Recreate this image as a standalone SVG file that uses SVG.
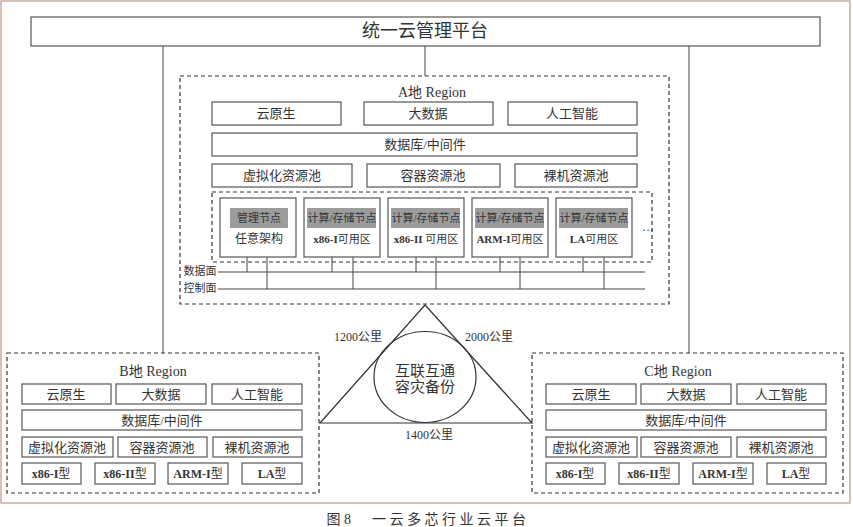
<svg xmlns="http://www.w3.org/2000/svg" width="853" height="527" viewBox="0 0 853 527">
<style>
.bx{fill:#fff;stroke:#555;stroke-width:1.2}
.dash{fill:none;stroke:#333;stroke-width:1.2;stroke-dasharray:4,3}
.ln{fill:none;stroke:#444;stroke-width:1}
.t{font-family:"Liberation Serif","Noto Sans CJK SC",serif;fill:#333;text-anchor:middle;dominant-baseline:central}
.s13{font-size:13px}
.s12{font-size:12px}
.s11{font-size:11px}
.b{font-weight:bold}
.gl{fill:#9c9c9c}
</style>
<rect x="0" y="0" width="853" height="527" fill="#fff"/>
<rect x="1" y="1" width="849" height="502" fill="none" stroke="#c9ad9f" stroke-width="1.5"/>

<g id="connectors">
<line class="ln" x1="163" y1="46" x2="163" y2="353"/>
<line class="ln" x1="689" y1="46" x2="689" y2="353"/>
<line class="ln" x1="425" y1="46" x2="425" y2="76"/>
<line class="ln" x1="218" y1="272" x2="645" y2="272"/>
<line class="ln" x1="218" y1="289" x2="645" y2="289"/>
<path class="ln" d="M247 257V272M267 257V289M332 257V272M353 257V289M416 257V272M436 257V289M500 257V272M520 257V289M583 257V272M604 257V289"/>
<polygon points="425,305 320,423 532,423" fill="none" stroke="#333" stroke-width="1.2"/>
</g>

<g id="platform">
<rect class="bx" x="31" y="17" width="789" height="29" stroke-width="1.5"/>
<text class="t" x="425" y="31" style="font-size:18px">统一云管理平台</text>
</g>

<g id="regionA">
<rect class="dash" x="180" y="76" width="489" height="228"/>
<text class="t" x="432" y="92" style="font-size:14px">A地 Region</text>
<rect class="bx" x="212" y="102" width="129" height="23"/><text class="t s13" x="276" y="113">云原生</text>
<rect class="bx" x="364" y="102" width="129" height="23"/><text class="t s13" x="428" y="113">大数据</text>
<rect class="bx" x="508" y="102" width="129" height="23"/><text class="t s13" x="572" y="113">人工智能</text>
<rect class="bx" x="212" y="133" width="425" height="23"/><text class="t s13" x="425" y="144">数据库/中间件</text>
<rect class="bx" x="212" y="164" width="140" height="23"/><text class="t s13" x="282" y="175">虚拟化资源池</text>
<rect class="bx" x="367" y="164" width="133" height="23"/><text class="t s13" x="433" y="175">容器资源池</text>
<rect class="bx" x="515" y="164" width="122" height="23"/><text class="t s13" x="576" y="175">裸机资源池</text>
<rect class="dash" x="212" y="192" width="440" height="70"/>
<text class="t s12" x="648" y="227">…</text>
<text class="t s11" x="200" y="271">数据面</text>
<text class="t s11" x="200" y="288">控制面</text>
</g>

<g id="nodeMgmt">
<rect class="bx" x="220" y="198" width="76" height="59"/>
<rect class="gl" x="230" y="208" width="58" height="20"/>
<text class="t s11" x="259" y="218">管理节点</text>
<text class="t s12" x="259" y="239">任意架构</text>
</g>
<g id="nodeX86I">
<rect class="bx" x="304" y="198" width="76" height="59"/>
<rect class="gl" x="307" y="208" width="69" height="20"/>
<text class="t s11" x="342" y="218">计算/存储节点</text>
<text class="t s11" x="342" y="239"><tspan class="b">x86-I</tspan>可用区</text>
</g>
<g id="nodeX86II">
<rect class="bx" x="388" y="198" width="76" height="59"/>
<rect class="gl" x="391" y="208" width="69" height="20"/>
<text class="t s11" x="426" y="218">计算/存储节点</text>
<text class="t s11" x="426" y="239"><tspan class="b">x86-II</tspan> 可用区</text>
</g>
<g id="nodeARM">
<rect class="bx" x="472" y="198" width="76" height="59"/>
<rect class="gl" x="475" y="208" width="69" height="20"/>
<text class="t s11" x="510" y="218">计算/存储节点</text>
<text class="t s11" x="510" y="239"><tspan class="b">ARM-I</tspan>可用区</text>
</g>
<g id="nodeLA">
<rect class="bx" x="556" y="198" width="76" height="59"/>
<rect class="gl" x="559" y="208" width="69" height="20"/>
<text class="t s11" x="594" y="218">计算/存储节点</text>
<text class="t s11" x="594" y="239"><tspan class="b">LA</tspan>可用区</text>
</g>

<g id="regionB">
<rect class="dash" x="7" y="353" width="312" height="140"/>
<text class="t" x="153" y="371" style="font-size:14px">B地 Region</text>
<rect class="bx" x="22" y="384" width="89" height="20"/><text class="t s13" x="66" y="394">云原生</text>
<rect class="bx" x="116" y="384" width="90" height="20"/><text class="t s13" x="161" y="394">大数据</text>
<rect class="bx" x="212" y="384" width="90" height="20"/><text class="t s13" x="257" y="394">人工智能</text>
<rect class="bx" x="22" y="410" width="280" height="20"/><text class="t s13" x="162" y="420">数据库/中间件</text>
<rect class="bx" x="22" y="437" width="91" height="20"/><text class="t s13" x="67" y="447">虚拟化资源池</text>
<rect class="bx" x="118" y="437" width="89" height="20"/><text class="t s13" x="162" y="447">容器资源池</text>
<rect class="bx" x="213" y="437" width="89" height="20"/><text class="t s13" x="257" y="447">裸机资源池</text>
<rect class="bx" x="22" y="463" width="59" height="21"/><text class="t s12" x="51" y="474"><tspan class="b">x86-I</tspan>型</text>
<rect class="bx" x="95" y="463" width="60" height="21"/><text class="t s12" x="125" y="474"><tspan class="b">x86-II</tspan>型</text>
<rect class="bx" x="168" y="463" width="60" height="21"/><text class="t s12" x="198" y="474"><tspan class="b">ARM-I</tspan>型</text>
<rect class="bx" x="242" y="463" width="60" height="21"/><text class="t s12" x="272" y="474"><tspan class="b">LA</tspan>型</text>
</g>

<g id="regionC">
<rect class="dash" x="532" y="353" width="311" height="140"/>
<text class="t" x="678" y="371" style="font-size:14px">C地 Region</text>
<rect class="bx" x="546" y="384" width="90" height="20"/><text class="t s13" x="591" y="394">云原生</text>
<rect class="bx" x="641" y="384" width="90" height="20"/><text class="t s13" x="686" y="394">大数据</text>
<rect class="bx" x="737" y="384" width="89" height="20"/><text class="t s13" x="781" y="394">人工智能</text>
<rect class="bx" x="546" y="410" width="280" height="20"/><text class="t s13" x="686" y="420">数据库/中间件</text>
<rect class="bx" x="546" y="437" width="91" height="20"/><text class="t s13" x="591" y="447">虚拟化资源池</text>
<rect class="bx" x="641" y="437" width="90" height="20"/><text class="t s13" x="686" y="447">容器资源池</text>
<rect class="bx" x="737" y="437" width="89" height="20"/><text class="t s13" x="781" y="447">裸机资源池</text>
<rect class="bx" x="546" y="463" width="59" height="21"/><text class="t s12" x="575" y="474"><tspan class="b">x86-I</tspan>型</text>
<rect class="bx" x="619" y="463" width="60" height="21"/><text class="t s12" x="649" y="474"><tspan class="b">x86-II</tspan>型</text>
<rect class="bx" x="693" y="463" width="60" height="21"/><text class="t s12" x="723" y="474"><tspan class="b">ARM-I</tspan>型</text>
<rect class="bx" x="767" y="463" width="59" height="21"/><text class="t s12" x="796" y="474"><tspan class="b">LA</tspan>型</text>
</g>

<g id="interconnect">
<ellipse cx="425" cy="377" rx="51" ry="45.5" fill="none" stroke="#333" stroke-width="1.2"/>
<text class="t" x="425" y="371" style="font-size:15px">互联互通</text>
<text class="t" x="425" y="387" style="font-size:15px">容灾备份</text>
<text class="t s12" x="358" y="337">1200公里</text>
<text class="t s12" x="489" y="337">2000公里</text>
<text class="t s12" x="429" y="435">1400公里</text>
</g>

<g id="caption">
<text class="t" x="428" y="519" style="font-size:14px;letter-spacing:3.5px">图8　一云多芯行业云平台</text>
</g>
</svg>
